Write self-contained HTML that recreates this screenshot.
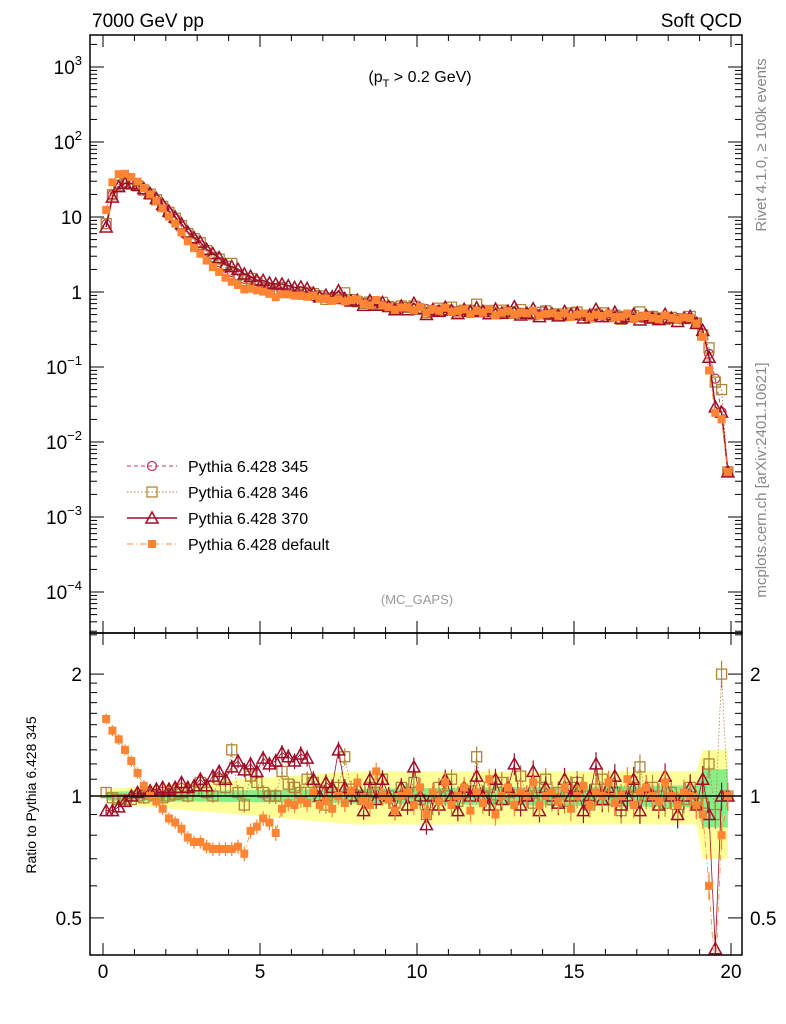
<!DOCTYPE html>
<html><head><meta charset="utf-8"><style>
html,body{margin:0;padding:0;background:#fff}
svg{display:block;font-family:"Liberation Sans",sans-serif}
</style></head><body>
<svg id="c" width="786" height="1024" viewBox="0 0 786 1024" xmlns="http://www.w3.org/2000/svg">
<g id="bands"></g>
<g id="series"></g>
<g id="axes"></g>
<text x="92" y="27" font-size="19">7000 GeV pp</text>
<text x="742" y="27" font-size="19" text-anchor="end">Soft QCD</text>
<text x="420" y="82" font-size="16" text-anchor="middle">(p<tspan font-size="11" dy="5">T</tspan><tspan dy="-5"> &gt; 0.2 GeV)</tspan></text>
<text x="417" y="604" font-size="13" fill="#999" text-anchor="middle">(MC_GAPS)</text>
<text transform="translate(766,145) rotate(-90)" font-size="15" fill="#888" text-anchor="middle">Rivet 4.1.0, ≥ 100k events</text>
<text transform="translate(766,480) rotate(-90)" font-size="15" fill="#888" text-anchor="middle">mcplots.cern.ch [arXiv:2401.10621]</text>
<text transform="translate(36,795) rotate(-90)" font-size="14" text-anchor="middle">Ratio to Pythia 6.428 345</text>
<g id="legend"></g>
</svg>
<script>
const xs=[];for(let i=0;i<100;i++)xs.push(0.1+0.2*i);
const ref345=[8,20,27,29,28,26,23,20,17,14,11.5,9.5,7.5,6,5,4.2,3.5,2.9,2.5,2.1,1.85,1.65,1.5,1.35,1.25,1.15,1.1,1.05,1.0,0.97,0.94,0.92,0.9,0.88,0.86,0.84,0.82,0.8,0.78,0.76,0.74,0.72,0.7,0.68,0.66,0.64,0.63,0.62,0.61,0.6,0.6,0.59,0.58,0.58,0.57,0.57,0.56,0.56,0.55,0.55,0.55,0.54,0.54,0.53,0.53,0.53,0.52,0.52,0.52,0.51,0.51,0.51,0.5,0.5,0.5,0.5,0.49,0.49,0.49,0.48,0.48,0.48,0.47,0.47,0.46,0.46,0.46,0.45,0.45,0.45,0.45,0.45,0.45,0.45,0.4,0.28,0.15,0.07,0.025,0.004];
const r346=[1.02,0.99,0.98,0.97,0.98,1.0,0.99,1.01,1.0,0.99,1.0,1.01,1.02,1.0,1.03,1.08,1.02,1.0,1.1,1.05,1.3,1.02,0.95,1.12,1.08,1.02,1.0,1.0,1.15,1.07,1.05,1.02,1.1,1.08,1.03,0.95,1.02,1.05,1.25,1.04,1.0,0.98,1.05,1.02,1.1,1.0,0.96,1.05,1.02,1.08,0.98,0.9,0.95,1.05,1.0,1.1,0.97,1.02,1.03,1.25,1.0,1.05,0.95,1.08,1.02,0.98,1.12,1.0,0.96,1.05,1.1,0.98,1.02,0.97,1.05,1.08,1.0,0.95,1.04,1.1,0.98,1.02,0.92,1.0,1.05,1.18,1.0,1.05,1.0,0.96,1.02,0.9,0.98,1.05,0.96,0.96,1.2,0.9,2.0,1.0];
const r370=[0.92,0.92,0.94,0.97,1.0,1.02,1.04,1.03,1.04,1.05,1.04,1.05,1.08,1.05,1.06,1.1,1.06,1.12,1.15,1.1,1.18,1.22,1.16,1.2,1.15,1.24,1.2,1.22,1.28,1.25,1.22,1.27,1.24,1.1,1.0,1.08,1.05,1.3,1.05,1.0,1.05,0.92,1.1,0.98,1.1,1.0,0.92,1.05,0.95,1.18,1.0,0.85,1.0,0.95,1.1,1.0,0.92,1.05,1.0,1.12,1.0,0.95,1.1,0.98,1.05,1.2,0.95,1.0,1.15,0.92,1.05,1.0,0.96,1.1,1.0,1.05,0.92,1.0,1.2,0.98,1.05,1.12,0.95,1.0,1.1,0.92,1.05,1.0,0.95,1.12,1.0,0.9,1.0,1.05,0.95,1.1,0.9,0.42,1.0,1.0];
const rdef=[1.55,1.45,1.38,1.3,1.22,1.14,1.06,1.0,0.97,0.93,0.88,0.86,0.83,0.79,0.77,0.77,0.75,0.74,0.74,0.74,0.74,0.75,0.72,0.82,0.84,0.88,0.86,0.81,0.93,0.96,0.95,0.98,0.96,1.02,0.95,0.97,0.93,1.0,0.96,1.03,1.08,0.97,0.95,1.15,1.0,0.98,0.92,1.0,1.02,0.95,1.05,0.9,1.02,0.97,1.08,0.95,1.0,1.05,0.92,1.02,0.96,1.1,0.9,1.0,1.05,0.95,1.02,1.0,1.08,0.95,1.0,1.02,0.97,1.05,0.93,1.0,1.06,0.95,1.02,1.0,1.08,0.96,1.0,1.1,0.95,1.02,1.05,1.0,0.97,1.08,1.0,0.95,1.02,1.0,0.95,0.9,0.6,0.35,0.8,1.0];
const xTicks=[0,5,10,15,20];
const xTickLabels=["0","5","10","15","20"];
const yDecades=[-4,-3,-2,-1,0,1,2,3];
const yDecLabels=["10^-4","10^-3","10^-2","10^-1","1","10","10^2","10^3"];
const rTicks=[0.5,1,2];
const rTickLabels=["0.5","1","2"];

const NS="http://www.w3.org/2000/svg";
const L=90,R=742,T=35,MB=633,B=955;
const X=x=>103+31.4*x;
const Y=v=>292-75*Math.log10(v);
const RY=r=>796-405*Math.log10(r);
function mk(tag,attrs,parent){const e=document.createElementNS(NS,tag);for(const k in attrs)e.setAttribute(k,attrs[k]);parent.appendChild(e);return e;}
const ax=document.getElementById('axes'),bd=document.getElementById('bands'),sr=document.getElementById('series'),lg=document.getElementById('legend');
const clipMain=mk('clipPath',{id:'cm'},ax);mk('rect',{x:L,y:T,width:R-L,height:MB-T},clipMain);
const clipR=mk('clipPath',{id:'cr'},ax);mk('rect',{x:L,y:MB,width:R-L,height:B-MB},clipR);
let up=[],dn=[],gu=[],gd=[];
xs.forEach((x,i)=>{const w=0.04+0.11*Math.min(x,8)/8+(x>19?0.15:0);const g=0.025+0.04*x/20+(x>19?0.1:0);up.push(X(x)+','+RY(1+w));dn.unshift(X(x)+','+RY(1-w));gu.push(X(x)+','+RY(1+g));gd.unshift(X(x)+','+RY(1-g));});
let p=mk('polygon',{points:up.concat(dn).join(' '),fill:'#ffff99','clip-path':'url(#cr)'},bd);


p=mk('polygon',{points:gu.concat(gd).join(' '),fill:'#88ee88','clip-path':'url(#cr)'},bd);


const S=[
 {name:'345',ratio:xs.map(()=>1),col:'#c43a5c',dash:'4,3',mk:'circle',sw:1},
 {name:'346',ratio:r346,col:'#b0853a',dash:'1.5,2',mk:'square',sw:1},
 {name:'370',ratio:r370,col:'#9e0e28',dash:'',mk:'tri',sw:1.5},
 {name:'default',ratio:rdef,col:'#ff8433',dash:'6,3,1,3',mk:'fsq',sw:1}];
function marker(type,cx,cy,col,g){let e;
 if(type==='circle')e=mk('circle',{cx,cy,r:4.5,fill:'none',stroke:col,'stroke-width':1.3},g);
 else if(type==='square')e=mk('rect',{x:cx-5,y:cy-5,width:10,height:10,fill:'none',stroke:col,'stroke-width':1.3},g);
 else if(type==='tri')e=mk('polygon',{points:`${cx},${cy-6} ${cx-6},${cy+5} ${cx+6},${cy+5}`,fill:'none',stroke:col,'stroke-width':1.5},g);
 else e=mk('rect',{x:cx-4,y:cy-4,width:8,height:8,fill:col},g);
 return e;}
S.forEach(s=>{
 const g=mk('g',{'clip-path':'url(#cm)'},sr);
 
 
 const vals=xs.map((x,i)=>ref345[i]*s.ratio[i]);
 mk('polyline',{points:xs.map((x,i)=>X(x)+','+Y(vals[i])).join(' '),fill:'none',stroke:s.col,'stroke-width':s.sw,'stroke-dasharray':s.dash},g);
 xs.forEach((x,i)=>{const m=marker(s.mk,X(x),Y(vals[i]),s.col,g);
  
  });
 const g2=mk('g',{'clip-path':'url(#cr)'},sr);
 
 
 if(s.name==='345')return;
 mk('polyline',{points:xs.map((x,i)=>X(x)+','+RY(s.ratio[i])).join(' '),fill:'none',stroke:s.col,'stroke-width':0.8,'stroke-dasharray':s.dash},g2);
 xs.forEach((x,i)=>{const e=0.03+0.05*x/20;
  mk('line',{x1:X(x),x2:X(x),y1:RY(s.ratio[i]*(1+e)),y2:RY(s.ratio[i]*(1-e)),stroke:s.col,'stroke-width':1.2},g2);
  const m=marker(s.mk,X(x),RY(s.ratio[i]),s.col,g2);
  
  });
});
mk('line',{x1:L,x2:R,y1:RY(1),y2:RY(1),stroke:'#000','stroke-width':1.5},ax);
mk('rect',{x:L,y:T,width:R-L,height:MB-T,fill:'none',stroke:'#000','stroke-width':1.5},ax);
mk('rect',{x:L,y:MB,width:R-L,height:B-MB,fill:'none',stroke:'#000','stroke-width':1.5},ax);
for(let x=0;x<=20.01;x+=1){const big=x%5===0,len=big?12:6;
 [[T,1],[MB,-1],[MB,1],[B,-1]].forEach(([y0,d])=>mk('line',{x1:X(x),x2:X(x),y1:y0,y2:y0+d*len,stroke:'#000','stroke-width':1},ax));}
xTicks.forEach((x,i)=>{const t=mk('text',{x:X(x),y:978,'font-size':19,'text-anchor':'middle'},ax);t.textContent=xTickLabels[i];
 
 });
for(let d=-5;d<=3;d++){for(let m=1;m<10;m++){const v=m*Math.pow(10,d);const y=Y(v);if(y<T||y>MB)continue;const len=m===1?14:7;
 mk('line',{x1:L,x2:L+len,y1:y,y2:y,stroke:'#000','stroke-width':1},ax);mk('line',{x1:R,x2:R-len,y1:y,y2:y,stroke:'#000','stroke-width':1},ax);}}
yDecades.forEach((d,i)=>{const y=Y(Math.pow(10,d))+7;const lab=yDecLabels[i];const t=mk('text',{x:82,y,'font-size':19,'text-anchor':'end'},ax);
 if(lab.indexOf('^')>0){const [b,e]=lab.split('^');t.textContent=b;const ts=mk('tspan',{'font-size':13,dy:-9},t);ts.textContent=e.replace('-','−');}else t.textContent=lab;
 
 });
[0.5,0.6,0.7,0.8,0.9,1,1.1,1.2,1.3,1.4,1.5,1.6,1.7,1.8,1.9,2,2.5].forEach(r=>{const y=RY(r);if(y<MB||y>B)return;const big=(r===0.5||r===1||r===2);const len=big?14:7;
 mk('line',{x1:L,x2:L+len,y1:y,y2:y,stroke:'#000'},ax);mk('line',{x1:R,x2:R-len,y1:y,y2:y,stroke:'#000'},ax);});
rTicks.forEach((r,i)=>{[[82,'end'],[750,'start']].forEach(([x,a])=>{const t=mk('text',{x,y:RY(r)+7,'font-size':19,'text-anchor':a},ax);t.textContent=rTickLabels[i];
 
 });});
S.forEach((s,i)=>{const y=466+26*i;const g=mk('g',{},lg);
 
 
 mk('line',{x1:127,x2:177,y1:y,y2:y,stroke:s.col,'stroke-width':s.sw,'stroke-dasharray':s.dash},g);
 marker(s.mk,152,y,s.col,g);
 const t=mk('text',{x:188,y:y+6,'font-size':16},g);t.textContent='Pythia 6.428 '+s.name;});
</script>
</body></html>
